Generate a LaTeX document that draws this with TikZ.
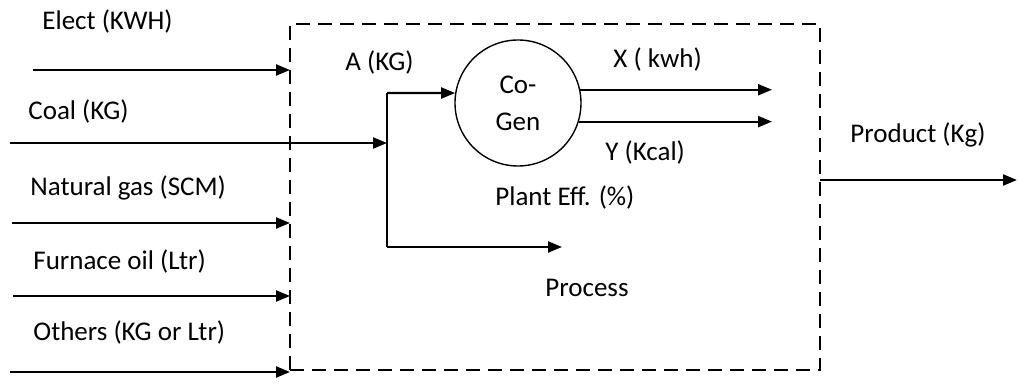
\documentclass[tikz,border=0pt]{standalone}
\usepackage{fontspec}
\setmainfont{Carlito}
\usetikzlibrary{arrows.meta,positioning,calc}
\tikzset{
	plantbox/.style={draw=black, line width=1pt, dash pattern=on 7pt off 4pt,
		inner sep=0pt, outer sep=0pt, minimum width=265pt, minimum height=173pt},
	gencirc/.style={draw=black, line width=0.7pt, circle, minimum size=63pt,
		inner sep=0pt, align=center, font=\fontsize{13.5}{18.5}\selectfont},
	lbl/.style={anchor=west, inner sep=0pt, font=\fontsize{13.5}{15}\selectfont},
	marr/.style={-{Triangle[length=7pt,width=5.5pt]}, line width=1.1pt},
	mline/.style={line width=1pt},
}
\begin{document}
\begin{tikzpicture}[x=0.5pt,y=-0.5pt]
	\useasboundingbox (0,0) rectangle (1019,384);
	\node[plantbox] (plant) at (555,197.5) {};
	\node[gencirc] (cogen) at (518,103) {Co-\\Gen};
	\coordinate (eIn) at (33,70);
	\coordinate (cIn) at (10,143);
	\coordinate (nIn) at (12,223);
	\coordinate (fIn) at (13,296);
	\coordinate (oIn) at (10,372);
	\coordinate (ja) at (387,93);
	\coordinate (jb) at (387,247);
	\coordinate (pOut) at (562,247);
	\coordinate (xOut) at (772,90);
	\coordinate (yOut) at (772,121);
	\coordinate (prodOut) at (1017,180);
	\node[lbl] (elect) at (42,22) {Elect (KWH)};
	\node[lbl] (coal) at (28,112) {Coal (KG)};
	\node[lbl] (gas) at (30,188) {Natural gas (SCM)};
	\node[lbl] (oil) at (33,262) {Furnace oil (Ltr)};
	\node[lbl] (others) at (33,333) {Others (KG or Ltr)};
	\node[lbl] (akg) at (345,63) {A (KG)};
	\node[lbl] (xkwh) at (613,60) {X ( kwh)};
	\node[lbl] (ykcal) at (605,153) {Y (Kcal)};
	\node[lbl] (eff) at (495,198) {Plant Eff. (\%)};
	\node[lbl] (process) at (545,288) {Process};
	\node[lbl] (product) at (850,135) {Product (Kg)};
	\draw[marr] (eIn) -- (eIn -| plant.west);
	\draw[marr] (nIn) -- (nIn -| plant.west);
	\draw[marr] (fIn) -- (fIn -| plant.west);
	\draw[marr] (oIn) -- (oIn -| plant.west);
	\draw[marr] (cIn) -- (cIn -| ja);
	\draw[mline] (ja) -- (jb);
	\draw[marr] (ja) -- (cogen.171);
	\draw[marr] (jb) -- (pOut);
	\draw[marr] (cogen.12) -- (cogen.12 -| xOut);
	\draw[marr] (cogen.-17) -- (cogen.-17 -| yOut);
	\draw[marr] (prodOut -| plant.east) -- (prodOut);
\end{tikzpicture}
\end{document}
